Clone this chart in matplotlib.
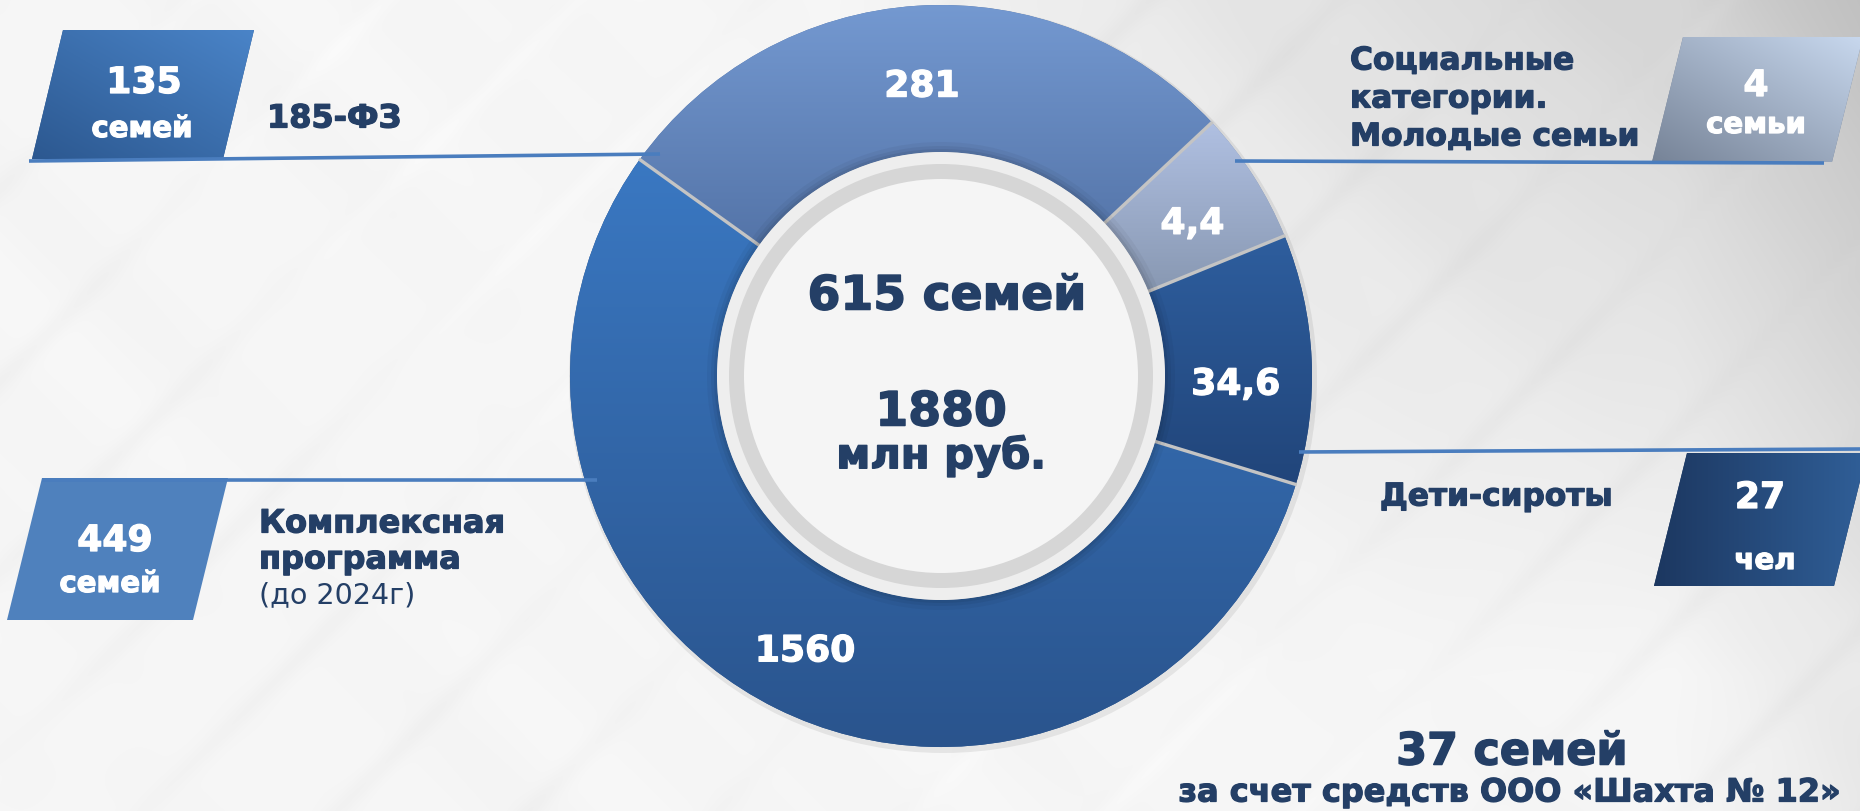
import numpy as np
import matplotlib
matplotlib.use("Agg")
import matplotlib.pyplot as plt
import matplotlib.patheffects as pe
from matplotlib.patches import Polygon, Circle
from matplotlib.colors import to_rgb

W, H = 1860, 811
NAVY = "#243F66"
LINE = "#4A7DBE"
plt.rcParams["font.family"] = ["DejaVu Sans"]

# ring segments, counter-clockwise starting at the upper-left boundary
seg_values = [1560, 34.6, 4.4, 281]            # млн руб.
seg_arc_deg = [198.7, 39.2, 20.9, 101.2]       # arc sizes as drawn on the slide (not proportional)
seg_top = ["#3A78C2", "#2E5E9E", "#B0C0E2", "#7499D1"]
seg_bot = ["#2A548D", "#21457A", "#8898B2", "#5474A8"]
start_deg = 144.3

total_families = 615
total_money = 1880

# callout boxes
box_counts = [135, 449, 4, 27]
box_units = ["семей", "семей", "семьи", "чел"]
shahta_families = 37


def Y(y):  # slide pixels (y down) -> axes coords (y up)
    return H - y


def heavy(c, w=0.9):
    return [pe.withStroke(linewidth=w, foreground=c)]


def fill_gradient(ax, patch, c0, c1, mode="v", z=2):
    ext = patch.get_path().get_extents()
    t = np.linspace(0, 1, 256)
    if mode == "v":      # c0 top -> c1 bottom
        g = np.repeat(t[:, None], 2, axis=1)
    elif mode == "h":    # c0 left -> c1 right
        g = np.repeat(t[None, :], 2, axis=0)
    else:                # c0 bottom-left -> c1 top-right
        gx, gy = np.meshgrid(t, t)
        g = (gx + (1 - gy)) / 2
    a, b = np.array(to_rgb(c0)), np.array(to_rgb(c1))
    rgb = (1 - g)[..., None] * a + g[..., None] * b
    im = ax.imshow(rgb, extent=(ext.x0, ext.x1, ext.y0, ext.y1), origin="upper",
                   interpolation="bilinear", aspect="auto", zorder=z)
    im.set_clip_path(patch)


def para_box(ax, top, bot, x_tl, width, slant, c0, c1, mode):
    # parallelogram: top edge at x_tl..x_tl+width, bottom shifted left by slant
    pts = [(x_tl, Y(top)), (x_tl + width, Y(top)),
           (x_tl + width - slant, Y(bot)), (x_tl - slant, Y(bot))]
    p = Polygon(pts, closed=True, facecolor=c0, edgecolor="none", zorder=3)
    ax.add_patch(p)
    if c1 is not None:
        fill_gradient(ax, p, c0, c1, mode, z=3)


fig = plt.figure(figsize=(W / 100, H / 100), dpi=100)
ax = fig.add_axes([0, 0, 1, 1])

# background: grey toward the top right, faint diagonal streaks
yy, xx = np.mgrid[0:H, 0:W].astype(float)
u, v = xx / W, yy / H
bg = 0.965 - 0.16 * np.clip((u - 0.45) / 0.55, 0, 1) * np.clip(1.0 - 1.2 * v, 0, 1)
bg -= 0.05 * np.clip((u - 0.9) / 0.1, 0, 1)
d1, d2 = xx - yy, xx + yy
bg += 0.008 * np.sin(d1 / 37.0) * np.sin(d1 / 151.0) * np.sin(d2 / 400.0 + 1.0)
bg += 0.014 * np.cos(d2 / 61.0) ** 40 * np.sin(d1 / 230.0) - 0.006 * np.cos((d2 + 9) / 61.0) ** 40
bg = np.clip(bg, 0, 1)
ax.imshow(np.dstack([bg] * 3), extent=(0, W, 0, H), origin="upper", aspect="auto", zorder=0)

# donut
cx, cy, R, ring = 941, Y(376), 371, 147
ax.add_patch(Circle((cx + 2, cy - 3), R + 3, color="k", alpha=0.07, lw=0, zorder=1))
wedges, _ = ax.pie(seg_arc_deg, startangle=start_deg, counterclock=True, radius=R, center=(cx, cy),
                   colors=seg_bot, wedgeprops=dict(width=ring, linewidth=0))
for w, c0, c1 in zip(wedges, seg_top, seg_bot):
    w.set_zorder(2)
    fill_gradient(ax, w, c0, c1, "v", z=2)

# separators between segments
for w in wedges:
    th = np.deg2rad(w.theta1)
    ax.plot([cx + (R - ring - 2) * np.cos(th), cx + (R + 1) * np.cos(th)],
            [cy + (R - ring - 2) * np.sin(th), cy + (R + 1) * np.sin(th)],
            color="#C4C4C4", lw=2.4, solid_capstyle="butt", zorder=4)

# segment labels at the middle of each arc (small nudges as on the slide)
label_nudge = [(-5, 11), (0, 22), (3, 7), (0, 5)]
for w, val, (dx, dy) in zip(wedges, seg_values, label_nudge):
    th = np.deg2rad((w.theta1 + w.theta2) / 2)
    ax.text(cx + 295 * np.cos(th) + dx, cy + 295 * np.sin(th) - dy, f"{val:g}".replace(".", ","),
            color="white", fontsize=26, fontweight="bold", ha="center", va="center", zorder=6,
            path_effects=heavy("white"))

# inner shadow and grey rim
r_in = R - ring
for d, a in [(10, 0.04), (6, 0.05), (3, 0.06)]:
    ax.add_patch(Circle((cx, cy), r_in + d, color="k", alpha=a, lw=0, zorder=4.5))
ax.add_patch(Circle((cx, cy), r_in, color="#EEEEEE", lw=0, zorder=5))
ax.add_patch(Circle((cx, cy), r_in - 12, color="#D6D6D6", lw=0, zorder=5))
ax.add_patch(Circle((cx, cy), r_in - 27, color="#F5F5F5", lw=0, zorder=5))

ax.text(cx + 6, Y(297), f"{total_families} семей", color=NAVY, fontsize=34, fontweight="bold",
        ha="center", va="center", zorder=6, path_effects=heavy(NAVY, 1.1))
ax.text(cx, Y(413), f"{total_money}", color=NAVY, fontsize=34, fontweight="bold",
        ha="center", va="center", zorder=6, path_effects=heavy(NAVY, 1.1))
ax.text(cx, Y(456), "млн руб.", color=NAVY, fontsize=30, fontweight="bold",
        ha="center", va="center", zorder=6, path_effects=heavy(NAVY, 1.1))

# leader lines
for (x0, y0), (x1, y1) in [((29, 161), (660, 154)), ((42, 480), (597, 480)),
                           ((1235, 161), (1824, 163)), ((1299, 452), (1860, 449))]:
    ax.plot([x0, x1], [Y(y0), Y(y1)], color=LINE, lw=2.6, solid_capstyle="butt", zorder=7)

# callout boxes
para_box(ax, 30, 159, 63, 191, 31, "#2C5890", "#4A84C8", "d")
para_box(ax, 478, 620, 42, 186, 35, "#4F81BD", None, None)
para_box(ax, 37, 162, 1683, 180, 31, "#768397", "#C8D8EE", "d")
para_box(ax, 453, 586, 1687, 180, 33, "#1C3760", "#305F98", "h")

box_num_xy = [(144, 83), (115, 541), (1756, 86), (1760, 498)]
box_unit_xy = [(142, 129), (110, 584), (1756, 125), (1765, 561)]
for n, unit, (nx, ny), (ux, uy) in zip(box_counts, box_units, box_num_xy, box_unit_xy):
    ax.text(nx, Y(ny), str(n), color="white", fontsize=26, fontweight="bold",
            ha="center", va="center", zorder=8, path_effects=heavy("white"))
    ax.text(ux, Y(uy), unit, color="white", fontsize=21, fontweight="bold",
            ha="center", va="center", zorder=8, path_effects=heavy("white"))

# captions
tk = dict(color=NAVY, fontweight="bold", ha="left", va="center", zorder=8,
          path_effects=heavy(NAVY))
ax.text(267, Y(119), "185-ФЗ", fontsize=23, **tk)
ax.text(259, Y(524), "Комплексная", fontsize=23, **tk)
ax.text(259, Y(560), "программа", fontsize=23, **tk)
ax.text(259, Y(595), "(до 2024г)", fontsize=20.5, color=NAVY, ha="left", va="center", zorder=8)
for i, s in enumerate(["Социальные", "категории.", "Молодые семьи"]):
    ax.text(1350, Y(61 + 38 * i), s, fontsize=22.5, **tk)
ax.text(1380, Y(497), "Дети-сироты", fontsize=22.5, **tk)

ax.text(1512, Y(752), f"{shahta_families} семей", color=NAVY, fontsize=32, fontweight="bold",
        ha="center", va="center", zorder=8, path_effects=heavy(NAVY, 1.1))
ax.text(1510, Y(793), "за счет средств ООО «Шахта № 12»", color=NAVY, fontsize=23,
        fontweight="bold", ha="center", va="center", zorder=8, path_effects=heavy(NAVY))

ax.set_xlim(0, W)
ax.set_ylim(0, H)
ax.set_aspect("auto")
ax.axis("off")
fig.savefig("out.png", dpi=100)
